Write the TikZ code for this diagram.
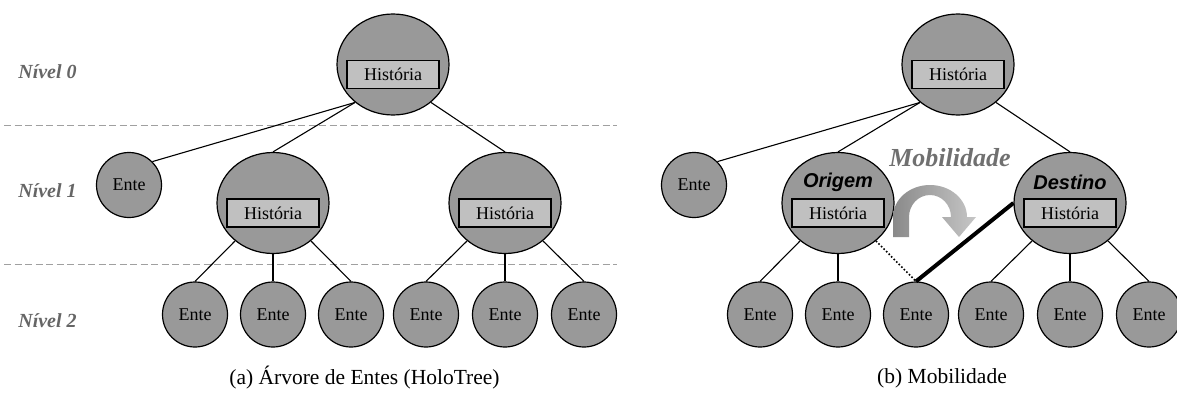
\documentclass[tikz,border=0pt]{standalone}
\usepackage{fontspec}
\setmainfont{Liberation Serif}
\setsansfont{Liberation Sans}
\usetikzlibrary{shapes.geometric}
\definecolor{nodegray}{HTML}{999999}
\definecolor{boxgray}{HTML}{C0C0C0}
\definecolor{lblgray}{HTML}{666666}
\definecolor{mobgray}{HTML}{707070}
\definecolor{dashgray}{HTML}{A0A0A0}
\definecolor{arrowdark}{HTML}{8A8A8A}
\definecolor{arrowlight}{HTML}{C6C6C6}
\begin{document}
\begin{tikzpicture}[x=1pt,y=1pt,
  big/.style={ellipse, draw=black, line width=1.2pt, fill=nodegray, minimum width=112pt, minimum height=101pt, inner sep=0pt},
  ente/.style={circle, draw=black, line width=1.2pt, fill=nodegray, minimum size=65pt, inner sep=0pt, font=\fontsize{18}{20}\selectfont},
  hbox/.style={rectangle, draw=black, line width=1.2pt, fill=boxgray, minimum width=92pt, minimum height=28pt, inner sep=0pt, font=\fontsize{18}{20}\selectfont},
  conn/.style={line width=1.1pt},
  levellbl/.style={font=\fontsize{20}{22}\selectfont\bfseries\itshape, text=lblgray},
  dashline/.style={draw=dashgray, line width=1pt, dash pattern=on 7pt off 3.5pt},
  captlbl/.style={font=\fontsize{21.5}{24}\selectfont},
  rolelbl/.style={font=\fontsize{20}{22}\selectfont\sffamily\bfseries\itshape}
]
\useasboundingbox (0,0) rectangle (1177,-396);

% ---------- level separators (left panel) ----------
\coordinate (d1a) at (4,-125);
\coordinate (d1b) at (617,-125);
\coordinate (d2a) at (4,-264);
\coordinate (d2b) at (617,-264);
\draw[dashline] (d1a) -- (d1b);
\draw[dashline] (d2a) -- (d2b);

\node[levellbl] (n0) at (47.5,-71.5) {Nível 0};
\node[levellbl] (n1) at (47.5,-190.5) {Nível 1};
\node[levellbl] (n2) at (47.5,-320.5) {Nível 2};

% ---------- left panel ----------
\node[big] (L0) at (393,-64.5) {};
\node[hbox] (L0h) at (393,-74.5) {História};
\node[ente] (L1a) at (129,-185) {Ente};
\node[big] (L1b) at (273,-203) {};
\node[hbox] (L1bh) at (273,-213) {História};
\node[big] (L1c) at (505,-203) {};
\node[hbox] (L1ch) at (505,-213) {História};
\node[ente] (L2a) at (195,-314.5) {Ente};
\node[ente] (L2b) at (273,-314.5) {Ente};
\node[ente] (L2c) at (351,-314.5) {Ente};
\node[ente] (L2d) at (426,-314.5) {Ente};
\node[ente] (L2e) at (505,-314.5) {Ente};
\node[ente] (L2f) at (584,-314.5) {Ente};

\draw[conn] (L0.-135) -- (L1a.45);
\draw[conn] (L0.-135) -- (L1b.north);
\draw[conn] (L0.-45) -- (L1c.north);
\draw[conn] (L1b.-135) -- (L2a.north);
\draw[conn] (L1b.south) -- (L2b.north);
\draw[conn] (L1b.-45) -- (L2c.north);
\draw[conn] (L1c.-135) -- (L2d.north);
\draw[conn] (L1c.south) -- (L2e.north);
\draw[conn] (L1c.-45) -- (L2f.north);

\node[captlbl] (capa) at (364.5,-378) {(a) Árvore de Entes (HoloTree)};

% ---------- right panel ----------
\node[big] (R0) at (958,-64.5) {};
\node[hbox] (R0h) at (958,-74.5) {História};
\node[ente] (R1a) at (694,-185) {Ente};
\node[big] (R1b) at (838,-203) {};
\node[hbox] (R1bh) at (838,-213) {História};
\node[rolelbl] (orig) at (838,-182) {Origem};
\node[big] (R1c) at (1070,-203) {};
\node[hbox] (R1ch) at (1070,-213) {História};
\node[rolelbl] (dest) at (1070,-182) {Destino};
\node[ente] (R2a) at (760,-314.5) {Ente};
\node[ente] (R2b) at (838,-314.5) {Ente};
\node[ente] (R2c) at (916,-314.5) {Ente};
\node[ente] (R2d) at (991,-314.5) {Ente};
\node[ente] (R2e) at (1070,-314.5) {Ente};
\node[ente] (R2f) at (1149,-314.5) {Ente};

\draw[conn] (R0.-135) -- (R1a.45);
\draw[conn] (R0.-135) -- (R1b.north);
\draw[conn] (R0.-45) -- (R1c.north);
\draw[conn] (R1b.-135) -- (R2a.north);
\draw[conn] (R1b.south) -- (R2b.north);
\draw[line width=1.6pt, dash pattern=on 1.6pt off 2pt] (R1b.-45) -- (R2c.north);
\draw[line width=4pt] (R2c.north) -- (R1c.west);
\draw[conn] (R1c.-135) -- (R2d.north);
\draw[conn] (R1c.south) -- (R2e.north);
\draw[conn] (R1c.-45) -- (R2f.north);

% mobility arrow
\node[font=\fontsize{26}{28}\selectfont\bfseries\itshape, text=mobgray] (mob) at (950,-158) {Mobilidade};
\shade[left color=arrowdark, right color=arrowlight]
  (893,-237) -- (893,-217) arc[start angle=180, end angle=0, x radius=37, y radius=32]
  -- (976,-217) -- (959,-237) -- (942,-217) -- (951,-217)
  arc[start angle=0, end angle=180, x radius=21, y radius=22]
  -- (909,-237) -- cycle;

\node[captlbl] (capb) at (942,-378) {(b) Mobilidade};
\end{tikzpicture}
\end{document}
